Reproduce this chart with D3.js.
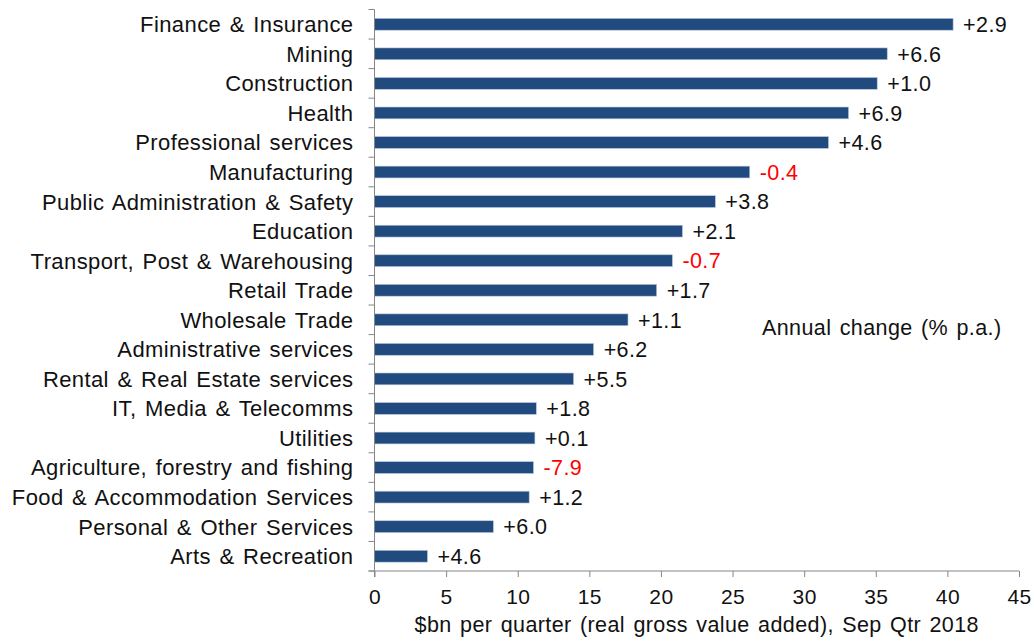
<!DOCTYPE html>
<html>
<head>
<meta charset="utf-8">
<script src="https://cdn.jsdelivr.net/npm/d3@7"></script>
<style>
  body { margin: 0; background: #fff; }
  svg { font-family: "Liberation Sans", Arial, sans-serif; }
  svg text { letter-spacing: 0.4px; word-spacing: 2px; }
</style>
</head>
<body>
<div id="chart"></div>
<script>
const industries = [
  "Finance & Insurance", "Mining", "Construction", "Health", "Professional services",
  "Manufacturing", "Public Administration & Safety", "Education",
  "Transport, Post & Warehousing", "Retail Trade", "Wholesale Trade",
  "Administrative services", "Rental & Real Estate services", "IT, Media & Telecomms",
  "Utilities", "Agriculture, forestry and fishing", "Food & Accommodation Services",
  "Personal & Other Services", "Arts & Recreation"
];
const gva = [40.4, 35.8, 35.1, 33.1, 31.7, 26.2, 23.8, 21.5, 20.8, 19.7, 17.7, 15.3, 13.9, 11.3, 11.2, 11.1, 10.8, 8.3, 3.7];
const annualChange = [2.9, 6.6, 1.0, 6.9, 4.6, -0.4, 3.8, 2.1, -0.7, 1.7, 1.1, 6.2, 5.5, 1.8, 0.1, -7.9, 1.2, 6.0, 4.6];
const xTicks = [0, 5, 10, 15, 20, 25, 30, 35, 40, 45];
const xTitle = "$bn per quarter (real gross value added), Sep Qtr 2018";
const changeNote = "Annual change (% p.a.)";

const width = 1034, height = 643;
const margin = {top: 9.5, right: 15, bottom: 72, left: 374.5};
const axisColor = "#868686";

const data = industries.map((name, i) => ({name: name, value: gva[i], change: annualChange[i]}));

const svg = d3.select("#chart").append("svg")
  .attr("width", width)
  .attr("height", height);

const x = d3.scaleLinear().domain([0, 45]).range([margin.left, width - margin.right]);
const y = d3.scaleBand().domain(industries).range([margin.top, height - margin.bottom]).paddingInner(0.6).paddingOuter(0.3);
const yRows = d3.scaleBand().domain(industries).range([margin.top, height - margin.bottom]);

// bars
svg.append("g").selectAll("rect")
  .data(data).enter()
  .append("rect")
    .attr("x", x(0))
    .attr("y", d => y(d.name))
    .attr("width", d => x(d.value) - x(0))
    .attr("height", y.bandwidth())
    .attr("fill", "#214a7e")
    .attr("stroke", "#b9c9de")
    .attr("stroke-width", 0.6);

// value labels (annual change)
const fmt = v => (v < 0 ? "-" : "+") + Math.abs(v).toFixed(1);
svg.append("g").selectAll("text")
  .data(data).enter()
  .append("text")
    .attr("x", d => x(d.value) + 10)
    .attr("y", d => yRows(d.name) + yRows.bandwidth() / 2)
    .attr("dy", "0.36em")
    .attr("font-size", 21.5)
    .attr("fill", d => d.change < 0 ? "#ff0000" : "#111")
    .text(d => fmt(d.change));

// x axis
const xAxis = svg.append("g")
  .attr("transform", `translate(0,${height - margin.bottom})`)
  .call(d3.axisBottom(x).tickValues(xTicks).tickSize(6).tickPadding(12).tickSizeOuter(0));
xAxis.select(".domain").attr("stroke", axisColor).attr("d", `M${x(0) - 6},0H${x(45)}`);
xAxis.selectAll(".tick line").attr("stroke", axisColor);
xAxis.selectAll(".tick text")
  .attr("font-size", 21)
  .attr("fill", "#111")
  .attr("font-family", "Liberation Sans, Arial, sans-serif");

// y axis: ticks sit on row boundaries
const yAxis = svg.append("g").attr("transform", `translate(${x(0)},0)`);
yAxis.append("path")
  .attr("d", `M0,${margin.top}V${height - margin.bottom + 6}`)
  .attr("stroke", axisColor)
  .attr("fill", "none");
const edges = industries.map(n => yRows(n)).concat([height - margin.bottom]);
yAxis.selectAll("line.edge")
  .data(edges).enter()
  .append("line")
    .attr("class", "edge")
    .attr("x1", -6).attr("x2", 0)
    .attr("y1", d => d).attr("y2", d => d)
    .attr("stroke", axisColor);
yAxis.selectAll("text")
  .data(industries).enter()
  .append("text")
    .attr("x", -21)
    .attr("y", d => yRows(d) + yRows.bandwidth() / 2)
    .attr("dy", "0.36em")
    .attr("text-anchor", "end")
    .attr("font-size", 22)
    .attr("fill", "#111")
    .text(d => d);

// titles
svg.append("text")
  .attr("x", (x(0) + x(45)) / 2)
  .attr("y", 632)
  .attr("text-anchor", "middle")
  .attr("font-size", 21.5)
  .attr("fill", "#111")
  .text(xTitle);

svg.append("text")
  .attr("x", 762)
  .attr("y", 335)
  .attr("font-size", 21.5)
  .attr("fill", "#111")
  .text(changeNote);
</script>
</body>
</html>
